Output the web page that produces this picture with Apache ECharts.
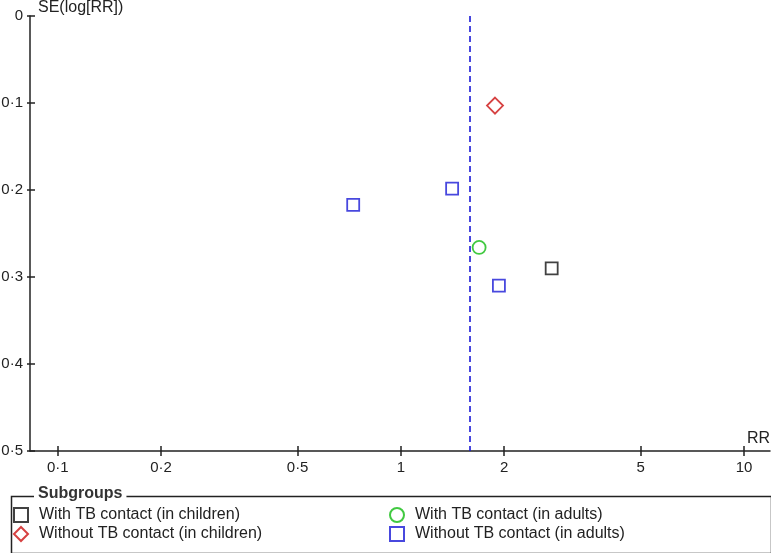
<!DOCTYPE html>
<html>
<head>
<meta charset="utf-8">
<script src="https://cdn.jsdelivr.net/npm/echarts@6/dist/echarts.min.js"></script>
<style>
  html, body { margin: 0; padding: 0; background: #fff; }
  #chart { width: 771px; height: 553px; }
</style>
</head>
<body>
<div id="chart"></div>
<script>
// RR on a log scale, SE(log[RR]) on the y axis (inverted)
const xTicks = [0.1, 0.2, 0.5, 1, 2, 5, 10];
const yTicks = [0, 0.1, 0.2, 0.3, 0.4, 0.5];
const xRange = [0.083, 11.9];
const pooledRR = 1.59;

const seriesNames = [
  'With TB contact (in children)',
  'Without TB contact (in children)',
  'With TB contact (in adults)',
  'Without TB contact (in adults)'
];
// [RR, SE]
const childrenWith = [[2.75, 0.29]];
const childrenWithout = [[1.88, 0.103]];
const adultsWith = [[1.69, 0.266]];
const adultsWithout = [[0.726, 0.217], [1.41, 0.1985], [1.93, 0.31]];

const font = 'Liberation Sans, Arial, sans-serif';
const ink = '#222';
const lg = v => Math.log10(v);
const dot = s => String(s).replace('.', '·');

const chart = echarts.init(document.getElementById('chart'));

const mk = (name, data, symbol, size, color) => ({
  name: name,
  type: 'scatter',
  xAxisIndex: 0,
  yAxisIndex: 0,
  data: data.map(d => [lg(d[0]), d[1]]),
  symbol: symbol,
  symbolSize: size,
  itemStyle: { color: 'rgba(255,255,255,0)', borderColor: color, borderWidth: 1.8 },
  emphasis: { disabled: true }
});

const xCommon = {
  type: 'value',
  min: lg(xRange[0]),
  max: lg(xRange[1]),
  splitLine: { show: false },
  position: 'bottom'
};
const yCommon = {
  type: 'value',
  inverse: true,
  min: yTicks[0],
  max: yTicks[yTicks.length - 1],
  interval: 0.1,
  splitLine: { show: false },
  position: 'left'
};
const tickLine = { color: ink, width: 1.5 };

const legendBase = {
  orient: 'vertical',
  top: 507,
  padding: 0,
  itemWidth: 14, itemHeight: 14, itemGap: 3,
  selectedMode: false,
  textStyle: { color: ink, fontSize: 16, fontFamily: font, padding: [0, 0, 0, 6] }
};

chart.setOption({
  animation: false,
  textStyle: { fontFamily: font },
  grid: { left: 30, top: 16, right: 1, bottom: 102, containLabel: false, outerBoundsMode: 'none' },
  xAxis: [
    Object.assign({}, xCommon, {
      name: 'RR',
      nameLocation: 'end',
      nameGap: 0,
      nameTextStyle: { color: ink, fontSize: 16, align: 'right', verticalAlign: 'bottom', padding: [0, 0, 4, 0] },
      axisLine: { onZero: false, lineStyle: { color: ink, width: 1.5 } },
      axisTick: { show: true, length: 5, lineStyle: tickLine, customValues: xTicks.map(lg) },
      axisLabel: {
        color: ink, fontSize: 15, margin: 9,
        customValues: xTicks.map(lg),
        formatter: v => dot(+Math.pow(10, v).toPrecision(3))
      }
    }),
    Object.assign({}, xCommon, {
      axisLine: { show: true, onZero: false, lineStyle: { color: 'rgba(0,0,0,0)' } },
      axisTick: { show: true, inside: true, length: 5, lineStyle: tickLine, customValues: xTicks.map(lg) },
      axisLabel: { show: false, customValues: xTicks.map(lg) }
    })
  ],
  yAxis: [
    Object.assign({}, yCommon, {
      name: 'SE(log[RR])',
      nameLocation: 'start',
      nameGap: 8,
      nameTextStyle: { color: ink, fontSize: 16, align: 'left', verticalAlign: 'middle', padding: [0, 0, 0, 8] },
      axisLine: { onZero: false, lineStyle: { color: ink, width: 1.5 } },
      axisTick: { show: true, length: 3, lineStyle: tickLine },
      axisLabel: { color: ink, fontSize: 15, margin: 7, formatter: v => dot(+v.toFixed(1)) }
    }),
    Object.assign({}, yCommon, {
      axisLine: { show: true, onZero: false, lineStyle: { color: 'rgba(0,0,0,0)' } },
      axisTick: { show: true, inside: true, length: 5, lineStyle: tickLine },
      axisLabel: { show: false }
    })
  ],
  legend: [
    Object.assign({}, legendBase, { left: 13, data: [seriesNames[0], seriesNames[1]] }),
    Object.assign({}, legendBase, { left: 389, data: [seriesNames[2], seriesNames[3]] })
  ],
  graphic: [
    {
      type: 'rect',
      left: 9, top: 494,
      shape: { width: 760, height: 57 },
      style: { fill: 'none', stroke: ink, lineWidth: 1.5 },
      z: -1
    },
    {
      type: 'text',
      left: 34, top: 485,
      style: {
        text: 'Subgroups', font: 'bold 16px ' + font, fill: '#333',
        backgroundColor: '#fff', padding: [1, 4, 1, 4]
      },
      z: 10
    }
  ],
  series: [
    mk(seriesNames[0], childrenWith, 'rect', 12, '#111'),
    Object.assign(mk(seriesNames[1], childrenWithout, 'diamond', 16, '#cc1111'), {
      markLine: {
        silent: true,
        symbol: 'none',
        label: { show: false },
        lineStyle: { color: '#1a1ad6', type: [6, 4], width: 1.6 },
        data: [{ xAxis: lg(pooledRR) }]
      }
    }),
    mk(seriesNames[2], adultsWith, 'circle', 13, '#11bb11'),
    mk(seriesNames[3], adultsWithout, 'rect', 12, '#1a1ad6')
  ]
});
</script>
</body>
</html>
